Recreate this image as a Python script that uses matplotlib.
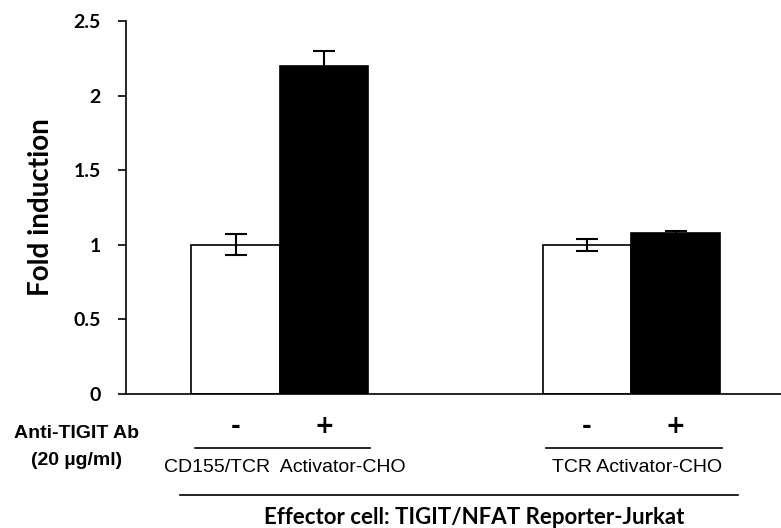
import matplotlib.pyplot as plt
import matplotlib.transforms as mtransforms
from matplotlib import font_manager

# data
groups = ['CD155/TCR  Activator-CHO', 'TCR Activator-CHO']
treatment = ['-', '+']
white_vals = [1.0, 1.0]
white_err = [0.07, 0.04]
black_vals = [2.2, 1.08]
black_err = [0.1, 0.01]

names = {f.name for f in font_manager.fontManager.ttflist}
narrow = 'Liberation Sans Narrow' if 'Liberation Sans Narrow' in names else 'Liberation Sans'
calib = 'Lato'

fig = plt.figure(figsize=(7.81, 5.28), dpi=100)
ax = fig.add_axes((126/781, 1 - 394/528, 655/781, 373/528))

centers = [1.5, 5.47]
w = 1.0
xw = [c - w/2 for c in centers]
xb = [c + w/2 for c in centers]

ekw = dict(ecolor='black', elinewidth=1.5, capsize=8, capthick=1.5)
ax.bar(xw, white_vals, width=w, color='white', edgecolor='black', linewidth=1.2,
       yerr=white_err, error_kw=ekw)
ax.bar(xb, black_vals, width=w, color='black', edgecolor='black', linewidth=1.2,
       yerr=black_err, error_kw=ekw)

ax.set_xlim(-0.237, 7.16)
ax.set_ylim(0, 2.5)
ax.set_yticks([0, 0.5, 1, 1.5, 2, 2.5])
ax.set_yticklabels(['0', '0.5', '1', '1.5', '2', '2.5'], fontfamily=calib, fontweight='bold', fontsize=14)
ax.tick_params(axis='y', direction='out', length=6, width=1.2, pad=12)
ax.set_xticks([])
for s in ['top', 'right']:
    ax.spines[s].set_visible(False)
ax.spines['left'].set_linewidth(1.2)
ax.spines['bottom'].set_linewidth(1.2)

ax.set_ylabel('Fold induction', fontfamily=calib, fontsize=20, fontweight='bold', labelpad=14)

trans = mtransforms.blended_transform_factory(ax.transData, ax.transAxes)
for i, c in enumerate(centers):
    ax.text(xw[i], -0.086, treatment[0], transform=trans, ha='center', va='center',
            fontsize=17, fontweight='bold', fontfamily='DejaVu Sans')
    ax.text(xb[i], -0.086, treatment[1], transform=trans, ha='center', va='center',
            fontsize=17, fontweight='bold', fontfamily='DejaVu Sans')
    ax.plot([c - 0.96, c + 1.02], [-0.145, -0.145], transform=trans, color='black',
            linewidth=1.2, clip_on=False)
    ax.text(c + 0.06, -0.196, groups[i], transform=trans, ha='center', va='center',
            fontsize=14, fontfamily=narrow)

ax.plot([0.37, 6.68], [-0.271, -0.271], transform=trans, color='black', linewidth=1.2, clip_on=False)
ax.text(3.69, -0.330, 'Effector cell: TIGIT/NFAT Reporter-Jurkat', transform=trans,
        ha='center', va='center', fontsize=16, fontweight='bold', fontfamily=calib)

ax.text(-0.075, -0.105, 'Anti-TIGIT Ab', transform=ax.transAxes, ha='center', va='center',
        fontsize=14, fontweight='bold', fontfamily=narrow)
ax.text(-0.075, -0.177, '(20 \u00b5g/ml)', transform=ax.transAxes, ha='center', va='center',
        fontsize=14, fontweight='bold', fontfamily=narrow)

fig.savefig('out.png', dpi=100)
